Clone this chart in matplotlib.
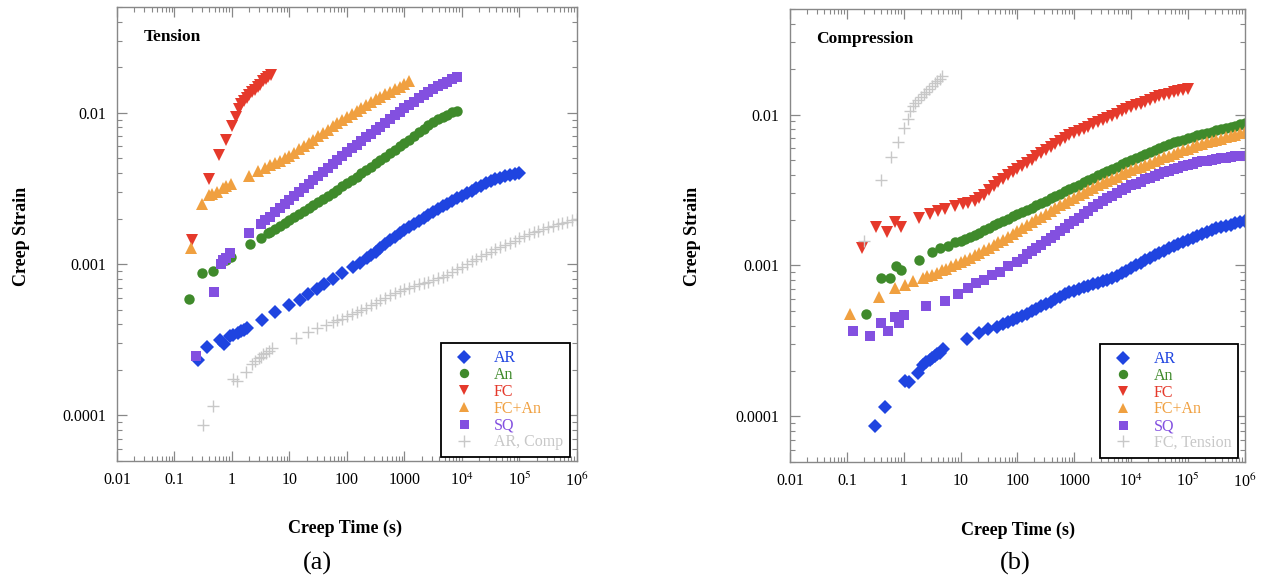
import numpy as np
import matplotlib
matplotlib.use('Agg')
from matplotlib import pyplot as plt
from matplotlib.ticker import FixedLocator, FixedFormatter, LogLocator, NullFormatter

plt.rcParams['font.family'] = ['Liberation Serif', 'DejaVu Serif']
plt.rcParams['mathtext.fontset'] = 'stix'

# logging times (12 per decade) used once the loggers speed up
t_grid = [1, 1.21, 1.47, 1.78, 2.15, 2.61, 3.16, 3.83, 4.64, 5.62, 6.81, 8.25,
          10, 12.1, 14.7, 17.8, 21.5, 26.1, 31.6, 38.3, 46.4, 56.2, 68.1, 82.5,
          100, 121, 147, 178, 215, 261, 316, 383, 464, 562, 681, 825,
          1000, 1210, 1470, 1780, 2150, 2610, 3160, 3830, 4640, 5620, 6810, 8250,
          10000, 12100, 14700, 17800, 21500, 26100, 31600, 38300, 46400, 56200, 68100, 82500,
          100000, 121000, 147000, 178000, 215000, 261000, 316000, 383000, 464000, 562000, 681000, 825000,
          1000000]

# ---- tension tests: early readings (t, strain) + dense readings starting at t_grid[start] ----
ar_ten_t0 = [0.26, 0.37, 0.62, 0.73, 0.92, 1.05, 1.27, 1.45, 1.62, 1.82, 3.33, 5.6, 9.8, 15.2, 21, 30, 40, 57, 82,
             127, 170, 223]
ar_ten_s0 = [2.31e-4, 2.82e-4, 3.14e-4, 2.95e-4, 3.33e-4, 3.4e-4, 3.49e-4, 3.6e-4, 3.68e-4, 3.77e-4, 4.26e-4, 4.81e-4,
             5.35e-4, 5.78e-4, 6.33e-4, 6.83e-4, 7.37e-4, 7.96e-4, 8.71e-4, 9.55e-4, 1.02e-3, 1.1e-3]
ar_ten_start = 29
ar_ten_s1 = [1.146e-3, 1.208e-3, 1.279e-3, 1.355e-3, 1.436e-3, 1.517e-3, 1.596e-3, 1.679e-3, 1.758e-3, 1.841e-3,
             1.928e-3, 2.014e-3, 2.109e-3, 2.203e-3, 2.307e-3, 2.41e-3, 2.512e-3, 2.612e-3, 2.716e-3, 2.825e-3,
             2.938e-3, 3.048e-3, 3.17e-3, 3.289e-3, 3.412e-3, 3.54e-3, 3.639e-3, 3.733e-3, 3.819e-3, 3.89e-3,
             3.963e-3, 4.027e-3]

an_ten_t0 = [0.18, 0.30, 0.47, 0.65, 0.8, 0.95, 2.05, 3.19, 4.23]
an_ten_s0 = [5.87e-4, 8.7e-4, 9.0e-4, 1.02e-3, 1.06e-3, 1.12e-3, 1.36e-3, 1.49e-3, 1.6e-3]
an_ten_start = 8
an_ten_s1 = [1.637e-3, 1.71e-3, 1.786e-3, 1.866e-3, 1.95e-3, 2.042e-3, 2.133e-3, 2.234e-3, 2.339e-3, 2.443e-3,
             2.559e-3, 2.685e-3, 2.818e-3, 2.958e-3, 3.105e-3, 3.258e-3, 3.42e-3, 3.597e-3, 3.784e-3, 3.972e-3,
             4.178e-3, 4.395e-3, 4.624e-3, 4.87e-3, 5.129e-3, 5.401e-3, 5.689e-3, 5.991e-3, 6.31e-3, 6.653e-3,
             7.031e-3, 7.413e-3, 7.816e-3, 8.26e-3, 8.71e-3, 9.036e-3, 9.376e-3, 9.727e-3, 1.009e-2, 1.035e-2]

fc_ten_t = [0.2, 0.4, 0.59, 0.79, 1.0, 1.17, 1.3, 1.45, 1.6, 1.8, 2.0, 2.25, 2.5, 2.8, 3.1, 3.5, 3.9, 4.3, 4.8]
fc_ten_s = [1.45e-3, 3.66e-3, 5.27e-3, 6.6e-3, 8.2e-3, 9.4e-3, 1.062e-2, 1.135e-2, 1.197e-2, 1.25e-2, 1.303e-2,
            1.362e-2, 1.42e-2, 1.479e-2, 1.535e-2, 1.61e-2, 1.667e-2, 1.722e-2, 1.786e-2]

fcan_ten_t0 = [0.19, 0.30, 0.40, 0.45, 0.55, 0.70, 0.8, 0.96, 1.98, 2.83]
fcan_ten_s0 = [1.28e-3, 2.5e-3, 2.86e-3, 2.92e-3, 3.0e-3, 3.19e-3, 3.28e-3, 3.39e-3, 3.83e-3, 4.13e-3]
fcan_ten_start = 7
fcan_ten_s1 = [4.345e-3, 4.498e-3, 4.667e-3, 4.831e-3, 5.012e-3, 5.188e-3, 5.458e-3, 5.728e-3, 6.026e-3, 6.339e-3,
               6.653e-3, 6.998e-3, 7.362e-3, 7.727e-3, 8.128e-3, 8.551e-3, 8.974e-3, 9.441e-3, 9.863e-3, 1.03e-2,
               1.076e-2, 1.127e-2, 1.178e-2, 1.23e-2, 1.279e-2, 1.327e-2, 1.38e-2, 1.435e-2, 1.489e-2, 1.549e-2,
               1.618e-2]

sq_ten_t0 = [0.24, 0.49, 0.65, 0.70, 0.8, 0.92, 1.98]
sq_ten_s0 = [2.46e-4, 6.5e-4, 1.0e-3, 1.06e-3, 1.1e-3, 1.18e-3, 1.6e-3]
sq_ten_start = 6
sq_ten_s1 = [1.841e-3, 1.945e-3, 2.056e-3, 2.193e-3, 2.339e-3, 2.495e-3, 2.661e-3, 2.831e-3, 3.006e-3, 3.199e-3,
             3.404e-3, 3.614e-3, 3.846e-3, 4.083e-3, 4.335e-3, 4.592e-3, 4.875e-3, 5.176e-3, 5.495e-3, 5.808e-3,
             6.138e-3, 6.486e-3, 6.871e-3, 7.261e-3, 7.674e-3, 8.11e-3, 8.57e-3, 9.057e-3, 9.594e-3, 1.014e-2,
             1.072e-2, 1.127e-2, 1.183e-2, 1.245e-2, 1.309e-2, 1.374e-2, 1.445e-2, 1.496e-2, 1.549e-2, 1.603e-2,
             1.66e-2, 1.718e-2]

# ---- compression tests ----
ar_comp_t0 = [0.31, 0.47, 1.05, 1.23, 1.78, 2.2, 2.5, 2.9, 3.2, 3.5, 3.9, 4.33, 4.89, 12.9, 21, 30, 43]
ar_comp_s0 = [8.7e-5, 1.15e-4, 1.73e-4, 1.68e-4, 1.93e-4, 2.2e-4, 2.3e-4, 2.38e-4, 2.45e-4, 2.53e-4, 2.6e-4, 2.65e-4,
              2.78e-4, 3.24e-4, 3.55e-4, 3.77e-4, 3.94e-4]
ar_comp_start = 21
ar_comp_s1 = [4.121e-4, 4.246e-4, 4.365e-4, 4.508e-4, 4.656e-4, 4.797e-4, 4.966e-4, 5.164e-4, 5.358e-4, 5.559e-4,
              5.768e-4, 5.984e-4, 6.209e-4, 6.427e-4, 6.637e-4, 6.808e-4, 6.982e-4, 7.178e-4, 7.345e-4, 7.516e-4,
              7.674e-4, 7.852e-4, 8.072e-4, 8.279e-4, 8.511e-4, 8.872e-4, 9.247e-4, 9.638e-4, 1.002e-3, 1.042e-3,
              1.084e-3, 1.125e-3, 1.167e-3, 1.208e-3, 1.253e-3, 1.297e-3, 1.34e-3, 1.387e-3, 1.432e-3, 1.479e-3,
              1.528e-3, 1.578e-3, 1.626e-3, 1.667e-3, 1.714e-3, 1.758e-3, 1.795e-3, 1.832e-3, 1.866e-3, 1.905e-3,
              1.945e-3, 1.986e-3]

an_comp_t0 = [0.217, 0.40, 0.57, 0.73, 0.89, 1.85, 3.13, 4.33, 6.0, 7.9]
an_comp_s0 = [4.8e-4, 8.3e-4, 8.3e-4, 9.85e-4, 9.27e-4, 1.08e-3, 1.22e-3, 1.3e-3, 1.34e-3, 1.42e-3]
an_comp_start = 12
an_comp_s1 = [1.452e-3, 1.5e-3, 1.549e-3, 1.6e-3, 1.652e-3, 1.714e-3, 1.774e-3, 1.841e-3, 1.91e-3, 1.977e-3,
              2.042e-3, 2.113e-3, 2.188e-3, 2.265e-3, 2.339e-3, 2.421e-3, 2.506e-3, 2.594e-3, 2.692e-3, 2.786e-3,
              2.884e-3, 2.985e-3, 3.097e-3, 3.206e-3, 3.319e-3, 3.436e-3, 3.565e-3, 3.69e-3, 3.819e-3, 3.954e-3,
              4.093e-3, 4.227e-3, 4.365e-3, 4.508e-3, 4.667e-3, 4.819e-3, 4.977e-3, 5.14e-3, 5.309e-3, 5.483e-3,
              5.662e-3, 5.848e-3, 6.026e-3, 6.223e-3, 6.397e-3, 6.531e-3, 6.683e-3, 6.823e-3, 6.982e-3, 7.145e-3,
              7.295e-3, 7.447e-3, 7.568e-3, 7.709e-3, 7.852e-3, 7.98e-3, 8.128e-3, 8.279e-3, 8.453e-3, 8.65e-3,
              8.851e-3]

fc_comp_t0 = [0.184, 0.32, 0.51, 0.70, 0.89, 1.85, 2.89, 3.99, 5.3, 7.9, 11, 13.5]
fc_comp_s0 = [1.3e-3, 1.79e-3, 1.66e-3, 1.93e-3, 1.81e-3, 2.05e-3, 2.18e-3, 2.28e-3, 2.38e-3, 2.46e-3, 2.54e-3,
              2.6e-3]
fc_comp_start = 15
fc_comp_s1 = [2.679e-3, 2.793e-3, 2.944e-3, 3.148e-3, 3.35e-3, 3.556e-3, 3.758e-3, 3.963e-3, 4.159e-3, 4.345e-3,
              4.56e-3, 4.786e-3, 5.023e-3, 5.272e-3, 5.521e-3, 5.781e-3, 6.067e-3, 6.353e-3, 6.668e-3, 6.998e-3,
              7.311e-3, 7.551e-3, 7.798e-3, 8.054e-3, 8.318e-3, 8.59e-3, 8.872e-3, 9.183e-3, 9.506e-3, 9.817e-3,
              1.014e-2, 1.05e-2, 1.084e-2, 1.117e-2, 1.151e-2, 1.183e-2, 1.216e-2, 1.25e-2, 1.285e-2, 1.318e-2,
              1.343e-2, 1.371e-2, 1.4e-2, 1.429e-2, 1.459e-2, 1.486e-2]

fcan_comp_t0 = [0.113, 0.37, 0.70, 1.05, 1.45]
fcan_comp_s0 = [4.8e-4, 6.14e-4, 7.05e-4, 7.38e-4, 7.84e-4]
fcan_comp_start = 4
fcan_comp_s1 = [8.241e-4, 8.472e-4, 8.71e-4, 8.974e-4, 9.268e-4, 9.55e-4, 9.863e-4, 1.016e-3, 1.047e-3, 1.084e-3,
                1.127e-3, 1.169e-3, 1.216e-3, 1.262e-3, 1.312e-3, 1.365e-3, 1.422e-3, 1.486e-3, 1.552e-3, 1.622e-3,
                1.694e-3, 1.77e-3, 1.854e-3, 1.936e-3, 2.023e-3, 2.109e-3, 2.203e-3, 2.296e-3, 2.393e-3, 2.5e-3,
                2.606e-3, 2.71e-3, 2.812e-3, 2.917e-3, 3.027e-3, 3.141e-3, 3.266e-3, 3.388e-3, 3.508e-3, 3.631e-3,
                3.75e-3, 3.873e-3, 4.009e-3, 4.14e-3, 4.276e-3, 4.395e-3, 4.519e-3, 4.645e-3, 4.775e-3, 4.909e-3,
                5.058e-3, 5.2e-3, 5.346e-3, 5.483e-3, 5.623e-3, 5.781e-3, 5.929e-3, 6.081e-3, 6.237e-3, 6.397e-3,
                6.531e-3, 6.653e-3, 6.792e-3, 6.934e-3, 7.063e-3, 7.211e-3, 7.362e-3, 7.534e-3, 7.709e-3]

sq_comp_t0 = [0.128, 0.255, 0.40, 0.53, 0.70, 0.82, 1.01, 2.45, 5.3, 9.0, 13.4, 18.6, 25.7, 35.5, 49, 68, 98, 124]
sq_comp_s0 = [3.66e-4, 3.39e-4, 4.13e-4, 3.66e-4, 4.59e-4, 4.13e-4, 4.73e-4, 5.35e-4, 5.86e-4, 6.43e-4, 7.05e-4,
              7.6e-4, 8.07e-4, 8.59e-4, 9.12e-4, 9.85e-4, 1.05e-3, 1.11e-3]
sq_comp_start = 26
sq_comp_s1 = [1.183e-3, 1.245e-3, 1.309e-3, 1.377e-3, 1.449e-3, 1.524e-3, 1.603e-3, 1.687e-3, 1.774e-3, 1.871e-3,
              1.968e-3, 2.075e-3, 2.188e-3, 2.307e-3, 2.432e-3, 2.559e-3, 2.679e-3, 2.786e-3, 2.897e-3, 3.013e-3,
              3.141e-3, 3.266e-3, 3.396e-3, 3.491e-3, 3.597e-3, 3.715e-3, 3.819e-3, 3.926e-3, 4.027e-3, 4.14e-3,
              4.236e-3, 4.335e-3, 4.436e-3, 4.529e-3, 4.634e-3, 4.732e-3, 4.819e-3, 4.909e-3, 4.955e-3, 5.012e-3,
              5.07e-3, 5.129e-3, 5.176e-3, 5.236e-3, 5.272e-3, 5.309e-3, 5.346e-3]

labels = ['AR', 'An', 'FC', 'FC+An', 'SQ']
colors = ['#1f44e0', '#3f8a2b', '#e5392b', '#f0a040', '#8350e0']
markers = ['D', 'o', 'v', '^', 's']
msizes = [7.6, 7.5, 8.6, 8.6, 7.2]
grey = '#c8c8c8'

x_ticks = [0.01, 0.1, 1, 10, 100, 1000, 1e4, 1e5, 1e6]
x_ticklabels = ['0.01', '0.1', '1', '10', '100', '1000', r'10$^4$', r'10$^5$', r'10$^6$']
y_ticks = [1e-4, 1e-3, 1e-2]
y_ticklabels = ['0.0001', '0.001', '0.01']


def series(t0, s0, start, s1):
    return t0 + t_grid[start:start + len(s1)], s0 + s1


tension = [series(ar_ten_t0, ar_ten_s0, ar_ten_start, ar_ten_s1),
           series(an_ten_t0, an_ten_s0, an_ten_start, an_ten_s1),
           (fc_ten_t, fc_ten_s),
           series(fcan_ten_t0, fcan_ten_s0, fcan_ten_start, fcan_ten_s1),
           series(sq_ten_t0, sq_ten_s0, sq_ten_start, sq_ten_s1)]
compression = [series(ar_comp_t0, ar_comp_s0, ar_comp_start, ar_comp_s1),
               series(an_comp_t0, an_comp_s0, an_comp_start, an_comp_s1),
               series(fc_comp_t0, fc_comp_s0, fc_comp_start, fc_comp_s1),
               series(fcan_comp_t0, fcan_comp_s0, fcan_comp_start, fcan_comp_s1),
               series(sq_comp_t0, sq_comp_s0, sq_comp_start, sq_comp_s1)]

fig = plt.figure(figsize=(12.65, 5.81), dpi=100)
ax1 = fig.add_axes([0.0925, 0.2065, 0.3635, 0.7815])
ax2 = fig.add_axes([0.6245, 0.2050, 0.3595, 0.7795])


def panel(ax, data, extra, extra_label, title):
    for (t, s), lab, c, m, ms in zip(data, labels, colors, markers, msizes):
        ax.plot(t, s, ls='none', marker=m, ms=ms, color=c, mew=0, label=lab)
    ax.plot(extra[0], extra[1], ls='none', marker='+', ms=9, mew=1.0, color=grey, label=extra_label)
    ax.set_xscale('log')
    ax.set_yscale('log')
    ax.set_xlim(0.01, 1e6)
    ax.set_ylim(5e-5, 0.05)
    ax.xaxis.set_major_locator(FixedLocator(x_ticks))
    ax.xaxis.set_major_formatter(FixedFormatter(x_ticklabels))
    ax.xaxis.set_minor_locator(LogLocator(base=10, subs=np.arange(2, 10), numticks=20))
    ax.xaxis.set_minor_formatter(NullFormatter())
    ax.yaxis.set_major_locator(FixedLocator(y_ticks))
    ax.yaxis.set_major_formatter(FixedFormatter(y_ticklabels))
    ax.yaxis.set_minor_locator(LogLocator(base=10, subs=np.arange(2, 10), numticks=20))
    ax.yaxis.set_minor_formatter(NullFormatter())
    ax.tick_params(which='both', direction='in', top=True, right=True, color='#888888', labelsize=11.5)
    ax.tick_params(which='major', length=7, width=0.9, pad=8)
    ax.tick_params(which='minor', length=3.5, width=0.8)
    for sp in ax.spines.values():
        sp.set_color('#888888')
        sp.set_linewidth(1.0)
    ax.text(0.057, 0.934, title, transform=ax.transAxes, fontsize=12.5, fontweight='bold', va='center')
    leg = ax.legend(loc='lower right', bbox_to_anchor=(0.986, 0.008), fontsize=11.5, frameon=True, fancybox=False,
                    framealpha=1, edgecolor='black', labelspacing=0.05, handlelength=2.0, handletextpad=0.9,
                    borderpad=0.45, borderaxespad=0, markerscale=0.9)
    leg.get_frame().set_linewidth(1.3)
    for txt, c in zip(leg.get_texts(), colors + [grey]):
        txt.set_color(c)


panel(ax1, tension, compression[0], 'AR, Comp', 'Tension')
panel(ax2, compression, tension[2], 'FC, Tension', 'Compression')

# axis titles and panel letters
for x in (22 / 1265, 693 / 1265):
    fig.text(x, 1 - 236 / 581, 'Creep Strain', rotation=90, fontsize=13, fontweight='bold', ha='center', va='center')
fig.text(345 / 1265, 1 - 528 / 581, 'Creep Time (s)', fontsize=13, fontweight='bold', ha='center', va='center')
fig.text(1018 / 1265, 1 - 530 / 581, 'Creep Time (s)', fontsize=13, fontweight='bold', ha='center', va='center')
fig.text(317 / 1265, 1 - 563 / 581, '(a)', fontsize=19, ha='center', va='center')
fig.text(1015 / 1265, 1 - 563 / 581, '(b)', fontsize=19, ha='center', va='center')

fig.savefig('out.png', dpi=100)
